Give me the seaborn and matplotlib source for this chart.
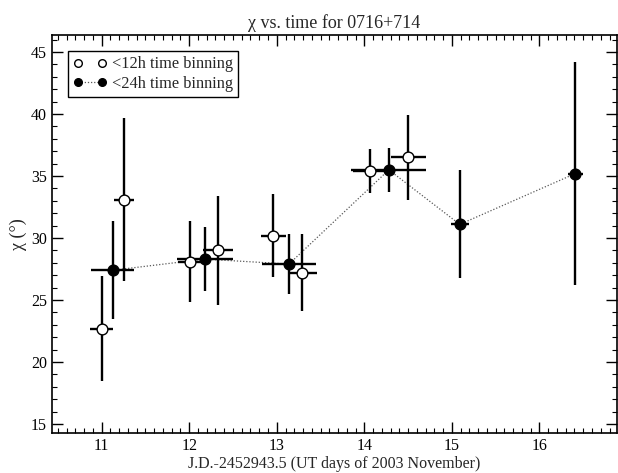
#!/usr/bin/env python3
"""Polarisation angle chi vs. time for 0716+714, two time binnings."""

import pandas as pd
import matplotlib.pyplot as plt
import seaborn as sns
from matplotlib.lines import Line2D
from matplotlib.ticker import MultipleLocator

# <12h time binning (open circles)
t12 = [11.00, 11.26, 12.01, 12.33, 12.96, 13.29, 14.07, 14.50]
t12_err = [0.13, 0.115, 0.14, 0.17, 0.14, 0.165, 0.20, 0.20]
chi12 = [22.7, 33.1, 28.1, 29.0, 30.2, 27.2, 35.4, 36.5]
chi12_err = [4.2, 6.6, 3.25, 4.4, 3.35, 3.1, 1.75, 3.4]

# <24h time binning (filled circles)
t24 = [11.125, 12.18, 13.14, 14.28, 15.09, 16.41]
t24_err = [0.245, 0.315, 0.31, 0.43, 0.10, 0.085]
chi24 = [27.4, 28.3, 27.9, 35.5, 31.1, 35.2]
chi24_err = [3.95, 2.6, 2.4, 1.75, 4.35, 9.0]

sns.set_style("ticks")
plt.rcParams['font.family'] = ['Liberation Serif', 'DejaVu Serif']

df12 = pd.DataFrame({'t': t12, 'chi': chi12})
df24 = pd.DataFrame({'t': t24, 'chi': chi24})

fig = plt.figure(figsize=(6.18, 4.73), dpi=100)
ax = fig.add_axes([0.0837, 0.0839, 0.9153, 0.842])

# dotted connecting line for the 24h series
sns.lineplot(data=df24, x='t', y='chi', ax=ax, color='0.35', lw=0.9,
             linestyle=(0, (1, 1.5)), sort=False, zorder=1)

ax.errorbar(t12, chi12, xerr=t12_err, yerr=chi12_err, fmt='none',
            ecolor='black', elinewidth=1.7, capsize=0, zorder=2)
ax.errorbar(t24, chi24, xerr=t24_err, yerr=chi24_err, fmt='none',
            ecolor='black', elinewidth=1.7, capsize=0, zorder=2)

sns.scatterplot(data=df12, x='t', y='chi', ax=ax, marker='o', s=60,
                facecolor='white', edgecolor='black', linewidth=1.0, zorder=3)
sns.scatterplot(data=df24, x='t', y='chi', ax=ax, marker='o', s=60,
                color='black', edgecolor='black', linewidth=1.0, zorder=4)

ax.set_xlim(10.43, 16.89)
ax.set_ylim(14.25, 46.37)
ax.xaxis.set_major_locator(MultipleLocator(1))
ax.xaxis.set_minor_locator(MultipleLocator(0.1))
ax.yaxis.set_major_locator(MultipleLocator(5))
ax.yaxis.set_minor_locator(MultipleLocator(1))
ax.tick_params(which='both', direction='in', top=True, right=True,
               labelsize=11.5, colors='black')
ax.tick_params(which='major', length=8, width=1.0)
ax.tick_params(which='minor', length=3.8, width=0.8)
for sp in ax.spines.values():
    sp.set_linewidth(1.2)
    sp.set_color('black')

ax.set_xlabel('J.D.-2452943.5 (UT days of 2003 November)', fontsize=11.5, labelpad=1)
ax.set_ylabel('χ (°)', fontsize=13, labelpad=3)
ax.set_title('χ vs. time for 0716+714', fontsize=13, pad=5)

h12 = Line2D([], [], marker='o', ls='none', mfc='white', mec='black', ms=5.5)
h24 = Line2D([], [], marker='o', ls=(0, (1, 1.5)), color='0.35', mfc='black',
             mec='black', ms=5.5, lw=0.9)
leg = ax.legend([h12, h24], ['<12h time binning', '<24h time binning'],
                loc='upper left', numpoints=2, fontsize=11.8, fancybox=False,
                edgecolor='black', framealpha=1, handlelength=2.05,
                handletextpad=0.33, borderpad=0.3, labelspacing=0.22,
                borderaxespad=1.0)
leg.get_frame().set_linewidth(1.0)

plt.savefig('out.png', dpi=100)
plt.close()
